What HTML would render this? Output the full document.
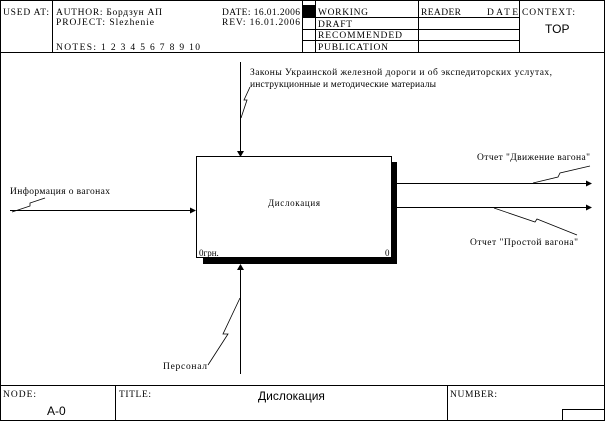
<!DOCTYPE html>
<html><head><meta charset="utf-8"><style>
html,body{margin:0;padding:0;background:#fff;}
svg{display:block;}
text{font-family:"Liberation Serif","DejaVu Serif",serif;font-size:9.5px;fill:#000;}
.s{font-family:"Liberation Sans","DejaVu Sans",sans-serif;}
</style></head><body>
<svg width="606" height="423" viewBox="0 0 606 423" xmlns="http://www.w3.org/2000/svg">
<g fill="none" stroke="#000" stroke-width="1">
<rect x="0.5" y="0.5" width="604" height="420"/>
<line x1="0" y1="52.5" x2="605" y2="52.5"/>
<line x1="52.5" y1="0" x2="52.5" y2="52"/>
<line x1="302.5" y1="0" x2="302.5" y2="52"/>
<line x1="315.5" y1="0" x2="315.5" y2="52"/>
<line x1="418.5" y1="0" x2="418.5" y2="52"/>
<line x1="519.5" y1="0" x2="519.5" y2="52"/>
<line x1="302" y1="17.5" x2="519" y2="17.5"/>
<line x1="302" y1="29.5" x2="519" y2="29.5"/>
<line x1="302" y1="40.5" x2="519" y2="40.5"/>
<line x1="0" y1="385.5" x2="605" y2="385.5"/>
<line x1="115.5" y1="385" x2="115.5" y2="421"/>
<line x1="447.5" y1="385" x2="447.5" y2="421"/>
<polyline points="562.5,421 562.5,409.5 605,409.5"/>
</g>
<rect x="303" y="5" width="12" height="12" fill="#000"/>
<text x="3" y="15" textLength="46" lengthAdjust="spacing">USED AT:</text>
<text x="56" y="15" textLength="106" lengthAdjust="spacing">AUTHOR: Бордзун АП</text>
<text x="56" y="25" textLength="98" lengthAdjust="spacing">PROJECT: Slezhenie</text>
<text x="56" y="50" textLength="144" lengthAdjust="spacing">NOTES: 1 2 3 4 5 6 7 8 9 10</text>
<text x="222" y="15" textLength="78" lengthAdjust="spacing">DATE: 16.01.2006</text>
<text x="222" y="25" textLength="78" lengthAdjust="spacing">REV: 16.01.2006</text>
<text x="318" y="15" textLength="50" lengthAdjust="spacing">WORKING</text>
<text x="318" y="27" textLength="34" lengthAdjust="spacing">DRAFT</text>
<text x="318" y="38" textLength="84" lengthAdjust="spacing">RECOMMENDED</text>
<text x="318" y="50" textLength="70" lengthAdjust="spacing">PUBLICATION</text>
<text x="421" y="15" textLength="40" lengthAdjust="spacing">READER</text>
<text x="487" y="15" textLength="31" lengthAdjust="spacing">DATE</text>
<text x="522" y="15" textLength="53" lengthAdjust="spacing">CONTEXT:</text>
<text x="545" y="33" class="s" style="font-size:12px">TOP</text>
<text x="3" y="397" textLength="33" lengthAdjust="spacing">NODE:</text>
<text x="47" y="415" class="s" style="font-size:12px">A-0</text>
<text x="119" y="397" textLength="32" lengthAdjust="spacing">TITLE:</text>
<text x="258" y="400" class="s" style="font-size:12px">Дислокация</text>
<text x="450" y="397" textLength="47" lengthAdjust="spacing">NUMBER:</text>
<rect x="392" y="162" width="5" height="102" fill="#000"/>
<rect x="203" y="257" width="194" height="7" fill="#000"/>
<rect x="196.5" y="156.5" width="195" height="101" fill="#fff" stroke="#000"/>
<text x="268" y="206" style="font-size:9px" textLength="52" lengthAdjust="spacing">Дислокация</text>
<text x="199" y="256" style="font-size:9px">0грн.</text>
<text x="385" y="256" style="font-size:9px">0</text>
<g fill="none" stroke="#000" stroke-width="1">
<line x1="240.5" y1="62" x2="240.5" y2="152"/>
<line x1="10" y1="210.5" x2="192" y2="210.5"/>
<line x1="397" y1="183.5" x2="587" y2="183.5"/>
<line x1="397" y1="207.5" x2="587" y2="207.5"/>
<line x1="240.5" y1="266" x2="240.5" y2="374"/>
<polyline points="241,118 247,100 244,100 250,87" stroke-width="0.8"/>
<polyline points="12,212 30,206 30,203 45,198" stroke-width="0.8"/>
<polyline points="533,183 558,177 560,173 590,166" stroke-width="0.8"/>
<polyline points="494,208 535,222 537,219 577,235" stroke-width="0.8"/>
<polyline points="240,298 223,334 228,334 208,365" stroke-width="0.8"/>
</g>
<g fill="#000">
<polygon points="237,151 244,151 240.5,157"/>
<polygon points="190,207.5 190,213.5 196,210.5"/>
<polygon points="586,180.5 586,186.5 592,183.5"/>
<polygon points="586,204.5 586,210.5 592,207.5"/>
<polygon points="237,270 244,270 240.5,264"/>
</g>
<text x="250" y="75" textLength="302" lengthAdjust="spacing">Законы Украинской железной дороги и об экспедиторских услутах,</text>
<text x="250" y="87" textLength="186" lengthAdjust="spacing">инструкционные и методические материалы</text>
<text x="10" y="194" textLength="100" lengthAdjust="spacing">Информация о вагонах</text>
<text x="477" y="160" textLength="113" lengthAdjust="spacing">Отчет "Движение вагона"</text>
<text x="470" y="245" textLength="108" lengthAdjust="spacing">Отчет "Простой вагона"</text>
<text x="163" y="369" textLength="44" lengthAdjust="spacing">Персонал</text>
</svg>
</body></html>
